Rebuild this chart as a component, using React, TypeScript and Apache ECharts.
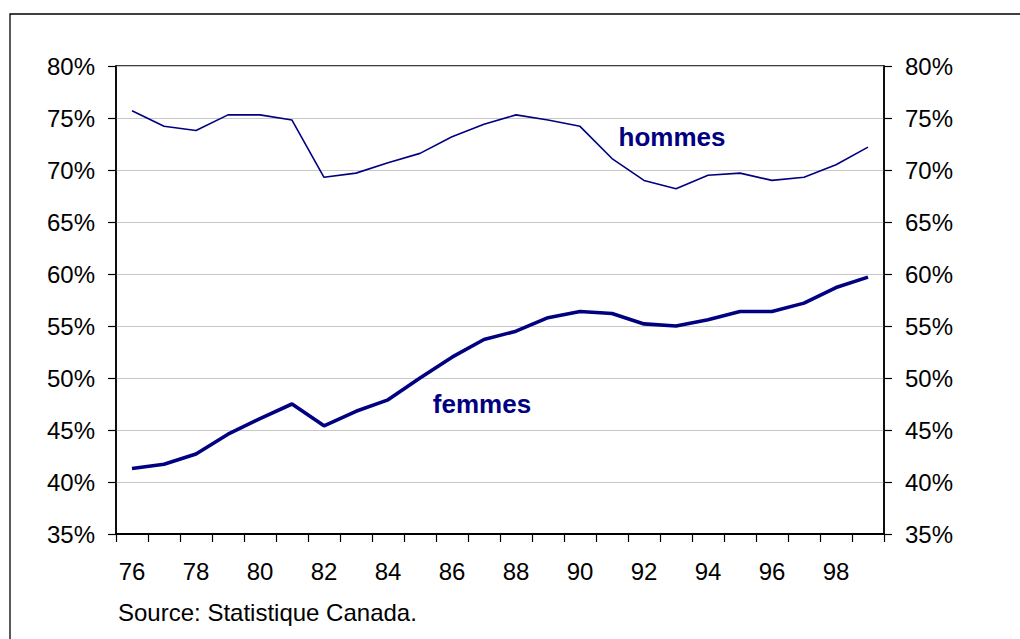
import React, { useEffect, useRef } from "react";
import * as echarts from "echarts";

const years = ["76","77","78","79","80","81","82","83","84","85","86","87","88","89","90","91","92","93","94","95","96","97","98","99"];
const hommes = [75.7,74.2,73.8,75.3,75.3,74.8,69.3,69.7,70.7,71.6,73.2,74.4,75.3,74.8,74.2,71.1,69.0,68.2,69.5,69.7,69.0,69.3,70.5,72.2];
const femmes = [41.3,41.7,42.7,44.6,46.1,47.5,45.4,46.8,47.9,50.0,52.0,53.7,54.5,55.8,56.4,56.2,55.2,55.0,55.6,56.4,56.4,57.2,58.7,59.7];
const yTicks = { min: 35, max: 80, interval: 5 };
const sourceText = "Source: Statistique Canada.";
const FONT = "'Liberation Sans', Arial, sans-serif";
const NAVY = "#000080";

export default function App() {
  const ref = useRef<HTMLDivElement>(null);
  useEffect(() => {
    const chart = echarts.init(ref.current!, null, { renderer: "svg" });
    const yAxisBase = {
      type: "value",
      min: yTicks.min,
      max: yTicks.max,
      interval: yTicks.interval,
      axisLine: { show: true, lineStyle: { color: "#000", width: 1.5 } },
      axisTick: { show: true, length: 8, lineStyle: { color: "#000", width: 1.2 } },
      axisLabel: { formatter: "{value}%", color: "#000", fontSize: 24, fontFamily: FONT, margin: 21 },
    };
    const labelStyle = { show: true, position: "inside", color: NAVY, fontSize: 26, fontWeight: "bold", fontFamily: FONT };
    chart.setOption({
      animation: false,
      backgroundColor: "#fff",
      grid: { left: 116, right: 136, top: 66, bottom: 105, show: true, borderColor: "#000", borderWidth: 1.5, backgroundColor: "transparent" },
      xAxis: {
        type: "category",
        data: years,
        boundaryGap: true,
        axisLine: { lineStyle: { color: "#000", width: 2 } },
        axisTick: { show: true, interval: 0, length: 8, lineStyle: { color: "#000", width: 1.2 } },
        axisLabel: { interval: 1, color: "#000", fontSize: 24, fontFamily: FONT, margin: 25 },
        splitLine: { show: false },
      },
      yAxis: [
        { ...yAxisBase, position: "left", splitLine: { show: true, lineStyle: { color: "#c8c8c8", width: 1 } } },
        { ...yAxisBase, position: "right", splitLine: { show: false } },
      ],
      series: [
        {
          name: "hommes",
          type: "line",
          data: hommes,
          symbol: "none",
          lineStyle: { color: NAVY, width: 1.6 },
          markPoint: {
            silent: true,
            symbol: "circle",
            symbolSize: 0,
            label: { ...labelStyle, formatter: "hommes" },
            data: [{ coord: ["93", 73.2], label: { offset: [-4, 0] } }],
          },
        },
        {
          name: "femmes",
          type: "line",
          data: femmes,
          symbol: "none",
          lineStyle: { color: NAVY, width: 3.6 },
          markPoint: {
            silent: true,
            symbol: "circle",
            symbolSize: 0,
            label: { ...labelStyle, formatter: "femmes" },
            data: [{ coord: ["87", 47.5], label: { offset: [-2, 0] } }],
          },
        },
      ],
      graphic: [
        {
          type: "rect",
          shape: { x: 10, y: 14, width: 1100, height: 700 },
          style: { fill: "none", stroke: "#000", lineWidth: 1.3 },
          silent: true,
        },
        {
          type: "text",
          left: 118,
          top: 600,
          style: { text: sourceText, fill: "#000", fontSize: 24, fontFamily: FONT },
        },
      ],
    });
    return () => chart.dispose();
  }, []);
  return <div ref={ref} style={{ position: "fixed", left: 0, top: 0, width: 1020, height: 639, background: "#fff" }} />;
}
